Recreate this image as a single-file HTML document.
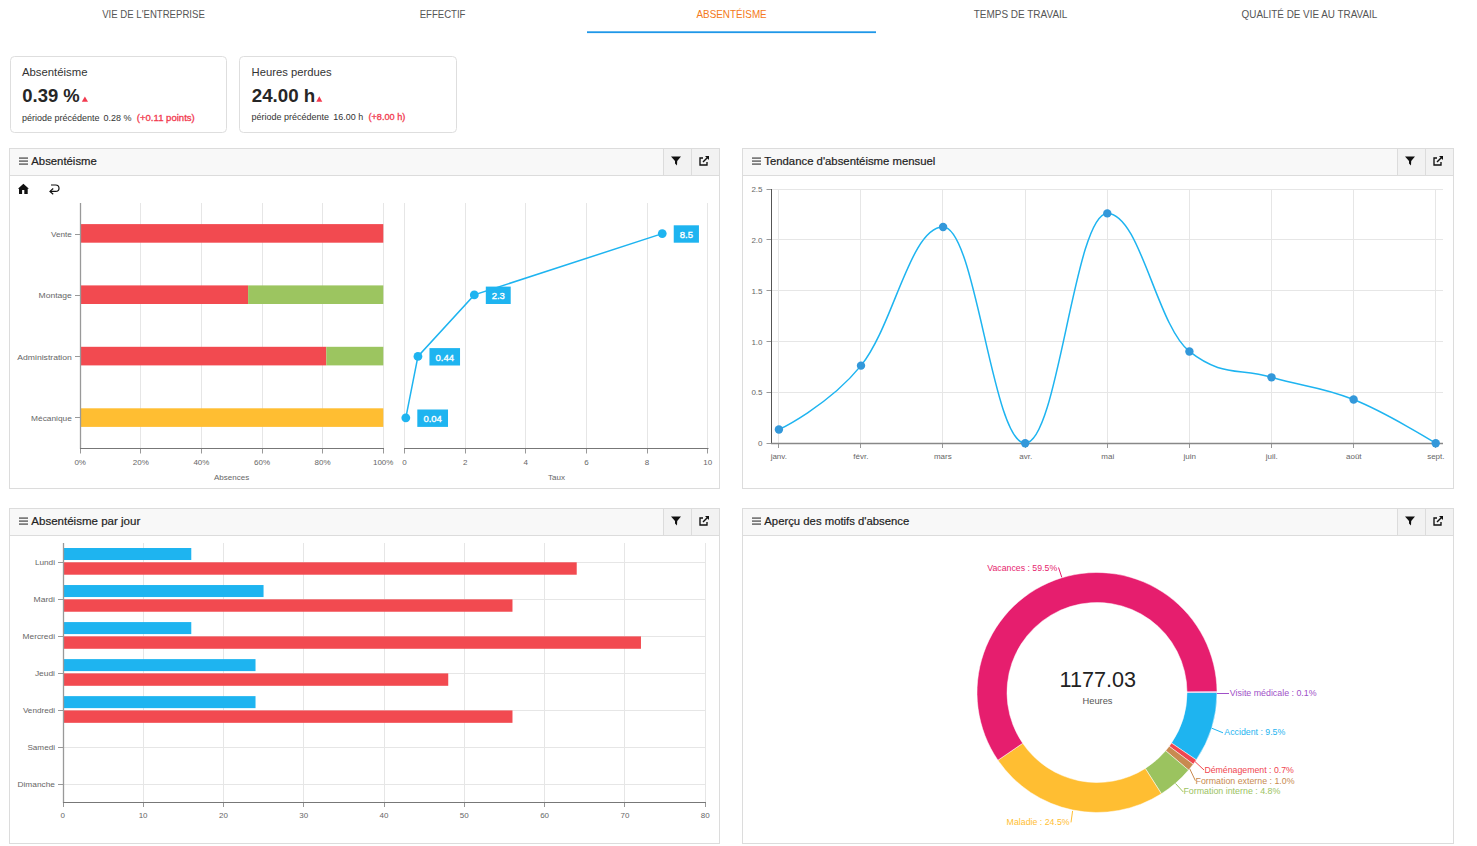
<!DOCTYPE html>
<html><head><meta charset="utf-8"><title>Absentéisme</title>
<style>
html,body{margin:0;padding:0;background:#fff;width:1477px;height:846px;overflow:hidden}
svg{position:absolute;left:0;top:0;display:block}
text{font-family:"Liberation Sans", sans-serif}
</style></head><body>
<svg width="1477" height="846" viewBox="0 0 1477 846" shape-rendering="auto">
<text x="102.20" y="18.00" font-size="11" fill="#555" text-anchor="start" font-weight="400" textLength="102.60" lengthAdjust="spacingAndGlyphs" >VIE DE L'ENTREPRISE</text>
<text x="419.70" y="18.00" font-size="11" fill="#555" text-anchor="start" font-weight="400" textLength="45.80" lengthAdjust="spacingAndGlyphs" >EFFECTIF</text>
<text x="696.50" y="18.00" font-size="11" fill="#f47920" text-anchor="start" font-weight="400" textLength="70.20" lengthAdjust="spacingAndGlyphs" >ABSENTÉISME</text>
<text x="973.70" y="18.00" font-size="11" fill="#555" text-anchor="start" font-weight="400" textLength="93.70" lengthAdjust="spacingAndGlyphs" >TEMPS DE TRAVAIL</text>
<text x="1241.60" y="18.00" font-size="11" fill="#555" text-anchor="start" font-weight="400" textLength="135.70" lengthAdjust="spacingAndGlyphs" >QUALITÉ DE VIE AU TRAVAIL</text>
<rect x="587.00" y="31.30" width="289.00" height="1.80" fill="#1f97e8" />
<rect x="10.5" y="56.5" width="216" height="76" rx="4" ry="4" fill="#fff" stroke="#dedede" stroke-width="1"/>
<rect x="239.5" y="56.5" width="217" height="76" rx="4" ry="4" fill="#fff" stroke="#dedede" stroke-width="1"/>
<text x="22.00" y="75.70" font-size="11" fill="#333" text-anchor="start" font-weight="400" textLength="65.50" lengthAdjust="spacingAndGlyphs" >Absentéisme</text>
<text x="22.30" y="102.20" font-size="19" fill="#262626" text-anchor="start" font-weight="700" textLength="57.50" lengthAdjust="spacingAndGlyphs" >0.39 %</text>
<polygon points="81.8,101.8 88,101.8 84.9,96.4" fill="#f23a4f"/>
<text x="22.00" y="120.80" font-size="9" fill="#333" text-anchor="start" font-weight="400" textLength="77.50" lengthAdjust="spacingAndGlyphs" >période précédente</text>
<text x="103.50" y="120.80" font-size="9" fill="#333" text-anchor="start" font-weight="400" textLength="28.00" lengthAdjust="spacingAndGlyphs" >0.28 %</text>
<text x="136.80" y="120.80" font-size="9" fill="#f23a4f" text-anchor="start" font-weight="400" textLength="58.00" lengthAdjust="spacingAndGlyphs" stroke="#f23a4f" stroke-width="0.3">(+0.11 points)</text>
<text x="251.60" y="75.50" font-size="11" fill="#333" text-anchor="start" font-weight="400" textLength="80.00" lengthAdjust="spacingAndGlyphs" >Heures perdues</text>
<text x="251.80" y="101.70" font-size="19" fill="#262626" text-anchor="start" font-weight="700" textLength="63.50" lengthAdjust="spacingAndGlyphs" >24.00 h</text>
<polygon points="316.3,101.7 322.3,101.7 319.3,96.2" fill="#f23a4f"/>
<text x="251.60" y="120.40" font-size="9" fill="#333" text-anchor="start" font-weight="400" textLength="77.30" lengthAdjust="spacingAndGlyphs" >période précédente</text>
<text x="333.30" y="120.40" font-size="9" fill="#333" text-anchor="start" font-weight="400" textLength="29.80" lengthAdjust="spacingAndGlyphs" >16.00 h</text>
<text x="368.40" y="120.40" font-size="9" fill="#f23a4f" text-anchor="start" font-weight="400" textLength="37.00" lengthAdjust="spacingAndGlyphs" stroke="#f23a4f" stroke-width="0.3">(+8.00 h)</text>
<rect x="9.5" y="148.5" width="710" height="340" fill="#fff" stroke="#dcdcdc" stroke-width="1"/>
<rect x="10" y="149" width="709" height="26" fill="#f8f8f8"/>
<line x1="9" y1="175.5" x2="720" y2="175.5" stroke="#dcdcdc" stroke-width="1"/>
<rect x="663.5" y="149" width="55.5" height="26" fill="#f2f2f2"/>
<line x1="663.5" y1="148" x2="663.5" y2="175" stroke="#dcdcdc" stroke-width="1"/>
<line x1="691.5" y1="148" x2="691.5" y2="175" stroke="#dcdcdc" stroke-width="1"/>
<rect x="19.00" y="157.50" width="9.00" height="1.15" fill="#3a3a3a" />
<rect x="19.00" y="160.50" width="9.00" height="1.15" fill="#3a3a3a" />
<rect x="19.00" y="163.50" width="9.00" height="1.15" fill="#3a3a3a" />
<text x="31.30" y="165.00" font-size="11.5" fill="#222" text-anchor="start" font-weight="400" textLength="65.50" lengthAdjust="spacingAndGlyphs" stroke="#222" stroke-width="0.2">Absentéisme</text>
<path d="M671 156.6 L681 156.6 L677.2 161 L677 165.6 L675 163.6 L675 161 Z" fill="#111"/>
<path d="M703 158 L700 158 L700 165 L707 165 L707 162" fill="none" stroke="#111" stroke-width="1.35"/>
<path d="M703 162 L708 157" fill="none" stroke="#111" stroke-width="1.35"/>
<path d="M705 156 L709 156 L709 160 Z" fill="#111"/>
<rect x="742.5" y="148.5" width="711" height="340" fill="#fff" stroke="#dcdcdc" stroke-width="1"/>
<rect x="743" y="149" width="710" height="26" fill="#f8f8f8"/>
<line x1="742" y1="175.5" x2="1454" y2="175.5" stroke="#dcdcdc" stroke-width="1"/>
<rect x="1397.5" y="149" width="55.5" height="26" fill="#f2f2f2"/>
<line x1="1397.5" y1="148" x2="1397.5" y2="175" stroke="#dcdcdc" stroke-width="1"/>
<line x1="1425.5" y1="148" x2="1425.5" y2="175" stroke="#dcdcdc" stroke-width="1"/>
<rect x="752.00" y="157.50" width="9.00" height="1.15" fill="#3a3a3a" />
<rect x="752.00" y="160.50" width="9.00" height="1.15" fill="#3a3a3a" />
<rect x="752.00" y="163.50" width="9.00" height="1.15" fill="#3a3a3a" />
<text x="764.30" y="165.00" font-size="11.5" fill="#222" text-anchor="start" font-weight="400" textLength="171.00" lengthAdjust="spacingAndGlyphs" stroke="#222" stroke-width="0.2">Tendance d'absentéisme mensuel</text>
<path d="M1405 156.6 L1415 156.6 L1411.2 161 L1411 165.6 L1409 163.6 L1409 161 Z" fill="#111"/>
<path d="M1437 158 L1434 158 L1434 165 L1441 165 L1441 162" fill="none" stroke="#111" stroke-width="1.35"/>
<path d="M1437 162 L1442 157" fill="none" stroke="#111" stroke-width="1.35"/>
<path d="M1439 156 L1443 156 L1443 160 Z" fill="#111"/>
<rect x="9.5" y="508.5" width="710" height="335" fill="#fff" stroke="#dcdcdc" stroke-width="1"/>
<rect x="10" y="509" width="709" height="26" fill="#f8f8f8"/>
<line x1="9" y1="535.5" x2="720" y2="535.5" stroke="#dcdcdc" stroke-width="1"/>
<rect x="663.5" y="509" width="55.5" height="26" fill="#f2f2f2"/>
<line x1="663.5" y1="508" x2="663.5" y2="535" stroke="#dcdcdc" stroke-width="1"/>
<line x1="691.5" y1="508" x2="691.5" y2="535" stroke="#dcdcdc" stroke-width="1"/>
<rect x="19.00" y="517.50" width="9.00" height="1.15" fill="#3a3a3a" />
<rect x="19.00" y="520.50" width="9.00" height="1.15" fill="#3a3a3a" />
<rect x="19.00" y="523.50" width="9.00" height="1.15" fill="#3a3a3a" />
<text x="31.30" y="525.00" font-size="11.5" fill="#222" text-anchor="start" font-weight="400" textLength="109.00" lengthAdjust="spacingAndGlyphs" stroke="#222" stroke-width="0.2">Absentéisme par jour</text>
<path d="M671 516.6 L681 516.6 L677.2 521 L677 525.6 L675 523.6 L675 521 Z" fill="#111"/>
<path d="M703 518 L700 518 L700 525 L707 525 L707 522" fill="none" stroke="#111" stroke-width="1.35"/>
<path d="M703 522 L708 517" fill="none" stroke="#111" stroke-width="1.35"/>
<path d="M705 516 L709 516 L709 520 Z" fill="#111"/>
<rect x="742.5" y="508.5" width="711" height="335" fill="#fff" stroke="#dcdcdc" stroke-width="1"/>
<rect x="743" y="509" width="710" height="26" fill="#f8f8f8"/>
<line x1="742" y1="535.5" x2="1454" y2="535.5" stroke="#dcdcdc" stroke-width="1"/>
<rect x="1397.5" y="509" width="55.5" height="26" fill="#f2f2f2"/>
<line x1="1397.5" y1="508" x2="1397.5" y2="535" stroke="#dcdcdc" stroke-width="1"/>
<line x1="1425.5" y1="508" x2="1425.5" y2="535" stroke="#dcdcdc" stroke-width="1"/>
<rect x="752.00" y="517.50" width="9.00" height="1.15" fill="#3a3a3a" />
<rect x="752.00" y="520.50" width="9.00" height="1.15" fill="#3a3a3a" />
<rect x="752.00" y="523.50" width="9.00" height="1.15" fill="#3a3a3a" />
<text x="764.30" y="525.00" font-size="11.5" fill="#222" text-anchor="start" font-weight="400" textLength="145.00" lengthAdjust="spacingAndGlyphs" stroke="#222" stroke-width="0.2">Aperçu des motifs d'absence</text>
<path d="M1405 516.6 L1415 516.6 L1411.2 521 L1411 525.6 L1409 523.6 L1409 521 Z" fill="#111"/>
<path d="M1437 518 L1434 518 L1434 525 L1441 525 L1441 522" fill="none" stroke="#111" stroke-width="1.35"/>
<path d="M1437 522 L1442 517" fill="none" stroke="#111" stroke-width="1.35"/>
<path d="M1439 516 L1443 516 L1443 520 Z" fill="#111"/>
<path d="M17.9 188.8 L23.4 183.8 L28.9 188.8 L27.7 188.8 L27.7 194 L24.3 194 L24.3 189.9 L22.1 189.9 L22.1 194 L19 194 L19 188.8 Z" fill="#111"/>
<path d="M51 185 L55.6 185 Q59 185 59 188.2 Q59 191.4 55.6 191.4 L50.2 191.4" fill="none" stroke="#111" stroke-width="1.2"/>
<path d="M53.2 188.5 L50 191.4 L53.2 194.3" fill="none" stroke="#111" stroke-width="1.2"/>
<line x1="80.5" y1="203" x2="80.5" y2="448" stroke="#e6e6e6" stroke-width="1"/>
<line x1="80.5" y1="448" x2="80.5" y2="453.5" stroke="#999" stroke-width="1"/>
<text x="80.20" y="465.00" font-size="8" fill="#666" text-anchor="middle" font-weight="400" >0%</text>
<line x1="140.5" y1="203" x2="140.5" y2="448" stroke="#e6e6e6" stroke-width="1"/>
<line x1="140.5" y1="448" x2="140.5" y2="453.5" stroke="#999" stroke-width="1"/>
<text x="140.80" y="465.00" font-size="8" fill="#666" text-anchor="middle" font-weight="400" >20%</text>
<line x1="201.5" y1="203" x2="201.5" y2="448" stroke="#e6e6e6" stroke-width="1"/>
<line x1="201.5" y1="448" x2="201.5" y2="453.5" stroke="#999" stroke-width="1"/>
<text x="201.40" y="465.00" font-size="8" fill="#666" text-anchor="middle" font-weight="400" >40%</text>
<line x1="262.5" y1="203" x2="262.5" y2="448" stroke="#e6e6e6" stroke-width="1"/>
<line x1="262.5" y1="448" x2="262.5" y2="453.5" stroke="#999" stroke-width="1"/>
<text x="262.00" y="465.00" font-size="8" fill="#666" text-anchor="middle" font-weight="400" >60%</text>
<line x1="322.5" y1="203" x2="322.5" y2="448" stroke="#e6e6e6" stroke-width="1"/>
<line x1="322.5" y1="448" x2="322.5" y2="453.5" stroke="#999" stroke-width="1"/>
<text x="322.60" y="465.00" font-size="8" fill="#666" text-anchor="middle" font-weight="400" >80%</text>
<line x1="383.5" y1="203" x2="383.5" y2="448" stroke="#e6e6e6" stroke-width="1"/>
<line x1="383.5" y1="448" x2="383.5" y2="453.5" stroke="#999" stroke-width="1"/>
<text x="383.20" y="465.00" font-size="8" fill="#666" text-anchor="middle" font-weight="400" >100%</text>
<text x="231.60" y="480.40" font-size="8" fill="#666" text-anchor="middle" font-weight="400" >Absences</text>
<line x1="75" y1="234.5" x2="80" y2="234.5" stroke="#999" stroke-width="1"/>
<text x="71.80" y="237.22" font-size="8" fill="#666" text-anchor="end" font-weight="400" textLength="20.80" lengthAdjust="spacingAndGlyphs" >Vente</text>
<line x1="75" y1="295.5" x2="80" y2="295.5" stroke="#999" stroke-width="1"/>
<text x="71.80" y="298.48" font-size="8" fill="#666" text-anchor="end" font-weight="400" textLength="33.20" lengthAdjust="spacingAndGlyphs" >Montage</text>
<line x1="75" y1="356.5" x2="80" y2="356.5" stroke="#999" stroke-width="1"/>
<text x="71.80" y="359.73" font-size="8" fill="#666" text-anchor="end" font-weight="400" textLength="54.50" lengthAdjust="spacingAndGlyphs" >Administration</text>
<line x1="75" y1="417.5" x2="80" y2="417.5" stroke="#999" stroke-width="1"/>
<text x="71.80" y="420.98" font-size="8" fill="#666" text-anchor="end" font-weight="400" textLength="40.70" lengthAdjust="spacingAndGlyphs" >Mécanique</text>
<rect x="80.50" y="224.10" width="302.80" height="18.60" fill="#f24a50" />
<rect x="80.50" y="285.40" width="167.60" height="18.60" fill="#f24a50" />
<rect x="248.10" y="285.40" width="135.20" height="18.60" fill="#9cc560" />
<rect x="80.50" y="346.80" width="245.80" height="18.60" fill="#f24a50" />
<rect x="326.30" y="346.80" width="57.00" height="18.60" fill="#9cc560" />
<rect x="80.50" y="408.30" width="302.80" height="18.60" fill="#ffbe32" />
<line x1="80.5" y1="203" x2="80.5" y2="449" stroke="#999" stroke-width="1.3"/>
<line x1="80" y1="448.5" x2="384" y2="448.5" stroke="#777" stroke-width="1.2"/>
<line x1="404.5" y1="203" x2="404.5" y2="448" stroke="#e6e6e6" stroke-width="1"/>
<line x1="404.5" y1="448" x2="404.5" y2="453.5" stroke="#999" stroke-width="1"/>
<text x="404.60" y="465.00" font-size="8" fill="#666" text-anchor="middle" font-weight="400" >0</text>
<line x1="465.5" y1="203" x2="465.5" y2="448" stroke="#e6e6e6" stroke-width="1"/>
<line x1="465.5" y1="448" x2="465.5" y2="453.5" stroke="#999" stroke-width="1"/>
<text x="465.22" y="465.00" font-size="8" fill="#666" text-anchor="middle" font-weight="400" >2</text>
<line x1="525.5" y1="203" x2="525.5" y2="448" stroke="#e6e6e6" stroke-width="1"/>
<line x1="525.5" y1="448" x2="525.5" y2="453.5" stroke="#999" stroke-width="1"/>
<text x="525.84" y="465.00" font-size="8" fill="#666" text-anchor="middle" font-weight="400" >4</text>
<line x1="586.5" y1="203" x2="586.5" y2="448" stroke="#e6e6e6" stroke-width="1"/>
<line x1="586.5" y1="448" x2="586.5" y2="453.5" stroke="#999" stroke-width="1"/>
<text x="586.46" y="465.00" font-size="8" fill="#666" text-anchor="middle" font-weight="400" >6</text>
<line x1="647.5" y1="203" x2="647.5" y2="448" stroke="#e6e6e6" stroke-width="1"/>
<line x1="647.5" y1="448" x2="647.5" y2="453.5" stroke="#999" stroke-width="1"/>
<text x="647.08" y="465.00" font-size="8" fill="#666" text-anchor="middle" font-weight="400" >8</text>
<line x1="707.5" y1="203" x2="707.5" y2="448" stroke="#e6e6e6" stroke-width="1"/>
<line x1="707.5" y1="448" x2="707.5" y2="453.5" stroke="#999" stroke-width="1"/>
<text x="707.70" y="465.00" font-size="8" fill="#666" text-anchor="middle" font-weight="400" >10</text>
<text x="556.50" y="480.40" font-size="8" fill="#666" text-anchor="middle" font-weight="400" >Taux</text>
<line x1="404" y1="448.5" x2="708.5" y2="448.5" stroke="#777" stroke-width="1.2"/>
<polyline points="662.24,233.60 474.31,294.90 417.94,356.40 405.81,417.80" fill="none" stroke="#1eb4f0" stroke-width="1.5"/>
<circle cx="662.24" cy="233.60" r="4.4" fill="#1eb4f0"/>
<rect x="673.74" y="225.30" width="25.20" height="17.40" fill="#1eb4f0" />
<text x="686.34" y="237.90" font-size="9.5" fill="#fff" text-anchor="middle" font-weight="400" stroke="#fff" stroke-width="0.35">8.5</text>
<circle cx="474.31" cy="294.90" r="4.4" fill="#1eb4f0"/>
<rect x="485.81" y="286.60" width="24.90" height="17.40" fill="#1eb4f0" />
<text x="498.26" y="299.20" font-size="9.5" fill="#fff" text-anchor="middle" font-weight="400" stroke="#fff" stroke-width="0.35">2.3</text>
<circle cx="417.94" cy="356.40" r="4.4" fill="#1eb4f0"/>
<rect x="429.44" y="348.10" width="30.60" height="17.40" fill="#1eb4f0" />
<text x="444.74" y="360.70" font-size="9.5" fill="#fff" text-anchor="middle" font-weight="400" stroke="#fff" stroke-width="0.35">0.44</text>
<circle cx="405.81" cy="417.80" r="4.4" fill="#1eb4f0"/>
<rect x="417.31" y="409.50" width="30.70" height="17.40" fill="#1eb4f0" />
<text x="432.66" y="422.10" font-size="9.5" fill="#fff" text-anchor="middle" font-weight="400" stroke="#fff" stroke-width="0.35">0.04</text>
<line x1="766.5" y1="443.5" x2="771.5" y2="443.5" stroke="#999" stroke-width="1"/>
<text x="762.50" y="446.20" font-size="8" fill="#666" text-anchor="end" font-weight="400" >0</text>
<line x1="771.5" y1="392.5" x2="1443" y2="392.5" stroke="#e6e6e6" stroke-width="1"/>
<line x1="766.5" y1="392.5" x2="771.5" y2="392.5" stroke="#999" stroke-width="1"/>
<text x="762.50" y="395.45" font-size="8" fill="#666" text-anchor="end" font-weight="400" >0.5</text>
<line x1="771.5" y1="341.5" x2="1443" y2="341.5" stroke="#e6e6e6" stroke-width="1"/>
<line x1="766.5" y1="341.5" x2="771.5" y2="341.5" stroke="#999" stroke-width="1"/>
<text x="762.50" y="344.70" font-size="8" fill="#666" text-anchor="end" font-weight="400" >1.0</text>
<line x1="771.5" y1="290.5" x2="1443" y2="290.5" stroke="#e6e6e6" stroke-width="1"/>
<line x1="766.5" y1="290.5" x2="771.5" y2="290.5" stroke="#999" stroke-width="1"/>
<text x="762.50" y="293.95" font-size="8" fill="#666" text-anchor="end" font-weight="400" >1.5</text>
<line x1="771.5" y1="239.5" x2="1443" y2="239.5" stroke="#e6e6e6" stroke-width="1"/>
<line x1="766.5" y1="239.5" x2="771.5" y2="239.5" stroke="#999" stroke-width="1"/>
<text x="762.50" y="243.20" font-size="8" fill="#666" text-anchor="end" font-weight="400" >2.0</text>
<line x1="771.5" y1="189.5" x2="1443" y2="189.5" stroke="#e6e6e6" stroke-width="1"/>
<line x1="766.5" y1="189.5" x2="771.5" y2="189.5" stroke="#999" stroke-width="1"/>
<text x="762.50" y="192.45" font-size="8" fill="#666" text-anchor="end" font-weight="400" >2.5</text>
<line x1="778.5" y1="189.5" x2="778.5" y2="443" stroke="#e6e6e6" stroke-width="1"/>
<line x1="778.5" y1="443" x2="778.5" y2="448" stroke="#999" stroke-width="1"/>
<text x="778.80" y="459.00" font-size="8" fill="#666" text-anchor="middle" font-weight="400" >janv.</text>
<line x1="860.5" y1="189.5" x2="860.5" y2="443" stroke="#e6e6e6" stroke-width="1"/>
<line x1="860.5" y1="443" x2="860.5" y2="448" stroke="#999" stroke-width="1"/>
<text x="860.80" y="459.00" font-size="8" fill="#666" text-anchor="middle" font-weight="400" >févr.</text>
<line x1="942.5" y1="189.5" x2="942.5" y2="443" stroke="#e6e6e6" stroke-width="1"/>
<line x1="942.5" y1="443" x2="942.5" y2="448" stroke="#999" stroke-width="1"/>
<text x="942.80" y="459.00" font-size="8" fill="#666" text-anchor="middle" font-weight="400" >mars</text>
<line x1="1025.5" y1="189.5" x2="1025.5" y2="443" stroke="#e6e6e6" stroke-width="1"/>
<line x1="1025.5" y1="443" x2="1025.5" y2="448" stroke="#999" stroke-width="1"/>
<text x="1025.80" y="459.00" font-size="8" fill="#666" text-anchor="middle" font-weight="400" >avr.</text>
<line x1="1107.5" y1="189.5" x2="1107.5" y2="443" stroke="#e6e6e6" stroke-width="1"/>
<line x1="1107.5" y1="443" x2="1107.5" y2="448" stroke="#999" stroke-width="1"/>
<text x="1107.80" y="459.00" font-size="8" fill="#666" text-anchor="middle" font-weight="400" >mai</text>
<line x1="1189.5" y1="189.5" x2="1189.5" y2="443" stroke="#e6e6e6" stroke-width="1"/>
<line x1="1189.5" y1="443" x2="1189.5" y2="448" stroke="#999" stroke-width="1"/>
<text x="1189.80" y="459.00" font-size="8" fill="#666" text-anchor="middle" font-weight="400" >juin</text>
<line x1="1271.5" y1="189.5" x2="1271.5" y2="443" stroke="#e6e6e6" stroke-width="1"/>
<line x1="1271.5" y1="443" x2="1271.5" y2="448" stroke="#999" stroke-width="1"/>
<text x="1271.80" y="459.00" font-size="8" fill="#666" text-anchor="middle" font-weight="400" >juil.</text>
<line x1="1353.5" y1="189.5" x2="1353.5" y2="443" stroke="#e6e6e6" stroke-width="1"/>
<line x1="1353.5" y1="443" x2="1353.5" y2="448" stroke="#999" stroke-width="1"/>
<text x="1353.80" y="459.00" font-size="8" fill="#666" text-anchor="middle" font-weight="400" >août</text>
<line x1="1435.5" y1="189.5" x2="1435.5" y2="443" stroke="#e6e6e6" stroke-width="1"/>
<line x1="1435.5" y1="443" x2="1435.5" y2="448" stroke="#999" stroke-width="1"/>
<text x="1435.80" y="459.00" font-size="8" fill="#666" text-anchor="middle" font-weight="400" >sept.</text>
<line x1="771.5" y1="189" x2="771.5" y2="444" stroke="#555" stroke-width="1"/>
<line x1="771" y1="443.5" x2="1443" y2="443.5" stroke="#888" stroke-width="1.6"/>
<path d="M778.90 429.50 C778.90 429.50 828.16 406.15 861.00 365.65 C893.84 325.16 910.26 227.00 943.10 227.00 C975.94 227.00 992.36 443.20 1025.20 443.20 C1058.04 443.20 1074.46 213.40 1107.30 213.40 C1140.14 213.40 1156.56 325.56 1189.40 351.44 C1222.24 377.33 1238.66 367.70 1271.50 377.33 C1304.34 386.95 1320.76 386.38 1353.60 399.56 C1386.44 412.73 1435.70 443.20 1435.70 443.20" fill="none" stroke="#1eb4f0" stroke-width="1.5"/>
<circle cx="778.90" cy="429.50" r="4.2" fill="#3398da"/>
<circle cx="861.00" cy="365.65" r="4.2" fill="#3398da"/>
<circle cx="943.10" cy="227.00" r="4.2" fill="#3398da"/>
<circle cx="1025.20" cy="443.20" r="4.2" fill="#3398da"/>
<circle cx="1107.30" cy="213.40" r="4.2" fill="#3398da"/>
<circle cx="1189.40" cy="351.44" r="4.2" fill="#3398da"/>
<circle cx="1271.50" cy="377.33" r="4.2" fill="#3398da"/>
<circle cx="1353.60" cy="399.56" r="4.2" fill="#3398da"/>
<circle cx="1435.70" cy="443.20" r="4.2" fill="#3398da"/>
<line x1="63.5" y1="543" x2="63.5" y2="802" stroke="#e6e6e6" stroke-width="1"/>
<line x1="63.5" y1="802" x2="63.5" y2="807" stroke="#999" stroke-width="1"/>
<text x="62.80" y="818.00" font-size="8" fill="#666" text-anchor="middle" font-weight="400" >0</text>
<line x1="143.5" y1="543" x2="143.5" y2="802" stroke="#e6e6e6" stroke-width="1"/>
<line x1="143.5" y1="802" x2="143.5" y2="807" stroke="#999" stroke-width="1"/>
<text x="143.10" y="818.00" font-size="8" fill="#666" text-anchor="middle" font-weight="400" >10</text>
<line x1="223.5" y1="543" x2="223.5" y2="802" stroke="#e6e6e6" stroke-width="1"/>
<line x1="223.5" y1="802" x2="223.5" y2="807" stroke="#999" stroke-width="1"/>
<text x="223.40" y="818.00" font-size="8" fill="#666" text-anchor="middle" font-weight="400" >20</text>
<line x1="303.5" y1="543" x2="303.5" y2="802" stroke="#e6e6e6" stroke-width="1"/>
<line x1="303.5" y1="802" x2="303.5" y2="807" stroke="#999" stroke-width="1"/>
<text x="303.70" y="818.00" font-size="8" fill="#666" text-anchor="middle" font-weight="400" >30</text>
<line x1="384.5" y1="543" x2="384.5" y2="802" stroke="#e6e6e6" stroke-width="1"/>
<line x1="384.5" y1="802" x2="384.5" y2="807" stroke="#999" stroke-width="1"/>
<text x="384.00" y="818.00" font-size="8" fill="#666" text-anchor="middle" font-weight="400" >40</text>
<line x1="464.5" y1="543" x2="464.5" y2="802" stroke="#e6e6e6" stroke-width="1"/>
<line x1="464.5" y1="802" x2="464.5" y2="807" stroke="#999" stroke-width="1"/>
<text x="464.30" y="818.00" font-size="8" fill="#666" text-anchor="middle" font-weight="400" >50</text>
<line x1="544.5" y1="543" x2="544.5" y2="802" stroke="#e6e6e6" stroke-width="1"/>
<line x1="544.5" y1="802" x2="544.5" y2="807" stroke="#999" stroke-width="1"/>
<text x="544.60" y="818.00" font-size="8" fill="#666" text-anchor="middle" font-weight="400" >60</text>
<line x1="624.5" y1="543" x2="624.5" y2="802" stroke="#e6e6e6" stroke-width="1"/>
<line x1="624.5" y1="802" x2="624.5" y2="807" stroke="#999" stroke-width="1"/>
<text x="624.90" y="818.00" font-size="8" fill="#666" text-anchor="middle" font-weight="400" >70</text>
<line x1="705.5" y1="543" x2="705.5" y2="802" stroke="#e6e6e6" stroke-width="1"/>
<line x1="705.5" y1="802" x2="705.5" y2="807" stroke="#999" stroke-width="1"/>
<text x="705.20" y="818.00" font-size="8" fill="#666" text-anchor="middle" font-weight="400" >80</text>
<line x1="62.8" y1="562.5" x2="705.8" y2="562.5" stroke="#e6e6e6" stroke-width="1"/>
<line x1="62.8" y1="599.5" x2="705.8" y2="599.5" stroke="#e6e6e6" stroke-width="1"/>
<line x1="62.8" y1="636.5" x2="705.8" y2="636.5" stroke="#e6e6e6" stroke-width="1"/>
<line x1="62.8" y1="673.5" x2="705.8" y2="673.5" stroke="#e6e6e6" stroke-width="1"/>
<line x1="62.8" y1="710.5" x2="705.8" y2="710.5" stroke="#e6e6e6" stroke-width="1"/>
<line x1="62.8" y1="747.5" x2="705.8" y2="747.5" stroke="#e6e6e6" stroke-width="1"/>
<line x1="62.8" y1="784.5" x2="705.8" y2="784.5" stroke="#e6e6e6" stroke-width="1"/>
<line x1="58" y1="562.5" x2="63" y2="562.5" stroke="#999" stroke-width="1"/>
<text x="55.00" y="564.91" font-size="8" fill="#666" text-anchor="end" font-weight="400" textLength="20.10" lengthAdjust="spacingAndGlyphs" >Lundi</text>
<rect x="63.30" y="548.01" width="127.98" height="12.00" fill="#1eb4f0" />
<rect x="63.30" y="562.31" width="513.42" height="12.40" fill="#f24a50" />
<line x1="58" y1="599.5" x2="63" y2="599.5" stroke="#999" stroke-width="1"/>
<text x="55.00" y="601.94" font-size="8" fill="#666" text-anchor="end" font-weight="400" textLength="21.40" lengthAdjust="spacingAndGlyphs" >Mardi</text>
<rect x="63.30" y="585.04" width="200.25" height="12.00" fill="#1eb4f0" />
<rect x="63.30" y="599.34" width="449.18" height="12.40" fill="#f24a50" />
<line x1="58" y1="636.5" x2="63" y2="636.5" stroke="#999" stroke-width="1"/>
<text x="55.00" y="638.98" font-size="8" fill="#666" text-anchor="end" font-weight="400" textLength="32.40" lengthAdjust="spacingAndGlyphs" >Mercredi</text>
<rect x="63.30" y="622.08" width="127.98" height="12.00" fill="#1eb4f0" />
<rect x="63.30" y="636.38" width="577.66" height="12.40" fill="#f24a50" />
<line x1="58" y1="673.5" x2="63" y2="673.5" stroke="#999" stroke-width="1"/>
<text x="55.00" y="676.00" font-size="8" fill="#666" text-anchor="end" font-weight="400" textLength="20.10" lengthAdjust="spacingAndGlyphs" >Jeudi</text>
<rect x="63.30" y="659.11" width="192.22" height="12.00" fill="#1eb4f0" />
<rect x="63.30" y="673.40" width="384.94" height="12.40" fill="#f24a50" />
<line x1="58" y1="710.5" x2="63" y2="710.5" stroke="#999" stroke-width="1"/>
<text x="55.00" y="713.03" font-size="8" fill="#666" text-anchor="end" font-weight="400" textLength="32.10" lengthAdjust="spacingAndGlyphs" >Vendredi</text>
<rect x="63.30" y="696.13" width="192.22" height="12.00" fill="#1eb4f0" />
<rect x="63.30" y="710.43" width="449.18" height="12.40" fill="#f24a50" />
<line x1="58" y1="747.5" x2="63" y2="747.5" stroke="#999" stroke-width="1"/>
<text x="55.00" y="750.07" font-size="8" fill="#666" text-anchor="end" font-weight="400" textLength="27.60" lengthAdjust="spacingAndGlyphs" >Samedi</text>
<line x1="58" y1="784.5" x2="63" y2="784.5" stroke="#999" stroke-width="1"/>
<text x="55.00" y="787.10" font-size="8" fill="#666" text-anchor="end" font-weight="400" textLength="37.50" lengthAdjust="spacingAndGlyphs" >Dimanche</text>
<line x1="63.5" y1="543" x2="63.5" y2="803" stroke="#999" stroke-width="1.3"/>
<line x1="63" y1="802.5" x2="705.8" y2="802.5" stroke="#777" stroke-width="1.2"/>
<path d="M1217.00 692.50 A120 120 0 0 1 1196.29 759.89 L1171.47 743.04 A90 90 0 0 0 1187.00 692.50 Z" fill="#1eb4f0" stroke="#fff" stroke-width="0.5" stroke-linejoin="round"/>
<path d="M1196.29 759.89 A120 120 0 0 1 1193.23 764.19 L1169.18 746.27 A90 90 0 0 0 1171.47 743.04 Z" fill="#f04650" stroke="#fff" stroke-width="0.5" stroke-linejoin="round"/>
<path d="M1193.23 764.19 A120 120 0 0 1 1188.55 770.08 L1165.66 750.69 A90 90 0 0 0 1169.18 746.27 Z" fill="#c88a50" stroke="#fff" stroke-width="0.5" stroke-linejoin="round"/>
<path d="M1188.55 770.08 A120 120 0 0 1 1161.40 793.75 L1145.30 768.44 A90 90 0 0 0 1165.66 750.69 Z" fill="#9bc35f" stroke="#fff" stroke-width="0.5" stroke-linejoin="round"/>
<path d="M1161.40 793.75 A120 120 0 0 1 997.92 760.20 L1022.69 743.28 A90 90 0 0 0 1145.30 768.44 Z" fill="#ffbe32" stroke="#fff" stroke-width="0.5" stroke-linejoin="round"/>
<path d="M997.92 760.20 A120 120 0 1 1 1217.00 691.75 L1187.00 691.94 A90 90 0 1 0 1022.69 743.28 Z" fill="#e61e6e" stroke="#fff" stroke-width="0.5" stroke-linejoin="round"/>
<path d="M1217.00 691.75 A120 120 0 0 1 1217.00 692.50 L1187.00 692.50 A90 90 0 0 0 1187.00 691.94 Z" fill="#a050c8" stroke="#fff" stroke-width="0.5" stroke-linejoin="round"/>
<text x="1059.50" y="686.70" font-size="22.3" fill="#222" text-anchor="start" font-weight="400" textLength="76.50" lengthAdjust="spacingAndGlyphs" >1177.03</text>
<text x="1082.50" y="704.00" font-size="9.5" fill="#555" text-anchor="start" font-weight="400" textLength="30.00" lengthAdjust="spacingAndGlyphs" >Heures</text>
<polyline points="1058.5,567.5 1061.8,577.3" fill="none" stroke="#e61e6e" stroke-width="1"/>
<text x="987.20" y="570.90" font-size="9" fill="#e61e6e" text-anchor="start" font-weight="400" textLength="70.00" lengthAdjust="spacingAndGlyphs" >Vacances : 59.5%</text>
<polyline points="1217,693.5 1229,693.5" fill="none" stroke="#a050c8" stroke-width="1"/>
<text x="1229.80" y="695.60" font-size="9" fill="#a050c8" text-anchor="start" font-weight="400" textLength="86.80" lengthAdjust="spacingAndGlyphs" >Visite médicale : 0.1%</text>
<polyline points="1211.7,728.2 1223,732.8" fill="none" stroke="#1eb4f0" stroke-width="1"/>
<text x="1224.30" y="734.60" font-size="9" fill="#1eb4f0" text-anchor="start" font-weight="400" textLength="61.00" lengthAdjust="spacingAndGlyphs" >Accident : 9.5%</text>
<polyline points="1195,761.6 1204,770" fill="none" stroke="#f04650" stroke-width="1"/>
<text x="1204.40" y="772.90" font-size="9" fill="#f04650" text-anchor="start" font-weight="400" textLength="89.50" lengthAdjust="spacingAndGlyphs" >Déménagement : 0.7%</text>
<polyline points="1189.7,768.7 1195.4,780.7" fill="none" stroke="#c88a50" stroke-width="1"/>
<text x="1195.50" y="783.50" font-size="9" fill="#c88a50" text-anchor="start" font-weight="400" textLength="99.00" lengthAdjust="spacingAndGlyphs" >Formation externe : 1.0%</text>
<polyline points="1175.5,783.5 1183.3,792" fill="none" stroke="#9bc35f" stroke-width="1"/>
<text x="1183.40" y="794.20" font-size="9" fill="#9bc35f" text-anchor="start" font-weight="400" textLength="97.00" lengthAdjust="spacingAndGlyphs" >Formation interne : 4.8%</text>
<polyline points="1072.6,810.9 1071,822.4" fill="none" stroke="#ffbe32" stroke-width="1"/>
<text x="1006.60" y="824.80" font-size="9" fill="#ffbe32" text-anchor="start" font-weight="400" textLength="63.00" lengthAdjust="spacingAndGlyphs" >Maladie : 24.5%</text>
</svg>
</body></html>
